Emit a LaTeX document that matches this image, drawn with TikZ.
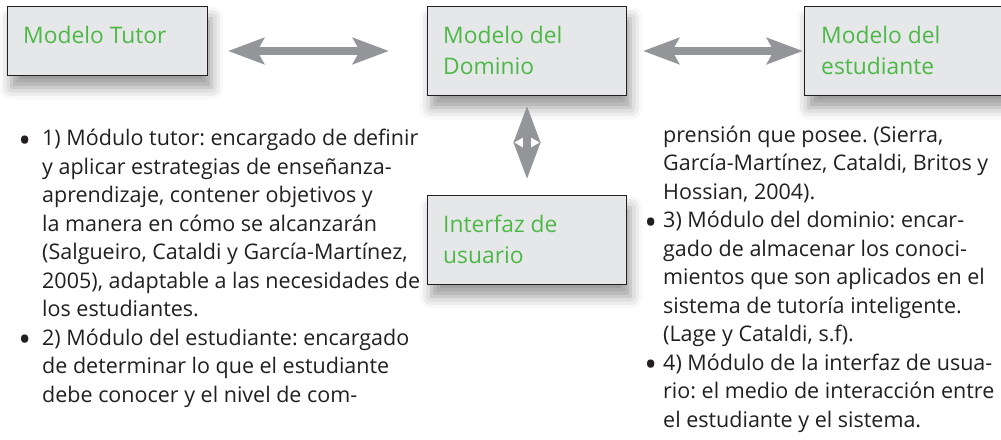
\documentclass[tikz,border=0pt]{standalone}
\usepackage{fontspec}
\setmainfont{Open Sans}
\usetikzlibrary{arrows.meta,shadows.blur}
\definecolor{boxfill}{HTML}{E6E7E8}
\definecolor{boxline}{HTML}{231F20}
\definecolor{arrowgray}{HTML}{939598}
\definecolor{titlegreen}{HTML}{4DB848}
\definecolor{bodytext}{HTML}{231F20}
\frenchspacing
\newcommand\mybul[1]{\makebox[0pt][r]{\raisebox{-6.5pt}{\fontsize{34}{34}\selectfont\textbullet}\hspace{#1}}}
\begin{document}
\begin{tikzpicture}[x=1pt,y=-1pt,
  modelbox/.style={draw=boxline, line width=1pt, fill=boxfill, inner sep=0pt, anchor=north west,
    blur shadow={shadow xshift=4pt, shadow yshift=-12pt, shadow blur radius=12pt, shadow opacity=40}},
  boxtext/.style={text=titlegreen, font=\fontsize{22.8}{31}\selectfont, align=left, anchor=base west, inner sep=0pt},
  bodytxt/.style={text=bodytext, font=\fontsize{21.5}{28.5}\selectfont\frenchspacing, align=left, anchor=base west, inner sep=0pt},
  dblarrow/.style={draw=arrowgray, line width=8pt,
    {Stealth[length=36pt,width=26pt,inset=7pt]}-{Stealth[length=36pt,width=26pt,inset=7pt]}}]
\useasboundingbox (0,0) rectangle (1001,439);
\clip (0,0) rectangle (1001,439);
% boxes
\node[modelbox, minimum width=200pt, minimum height=69pt] (tutor) at (7,6) {};
\node[modelbox, minimum width=199pt, minimum height=89pt] (dominio) at (427,6) {};
\node[modelbox, minimum width=230pt, minimum height=89pt] (estud) at (804,6) {};
\node[modelbox, minimum width=199pt, minimum height=89pt] (interfaz) at (427,195) {};
% box titles (anchored at the baseline of their last line)
\node[boxtext] (tutortxt) at ([shift={(16,37)}]tutor.north west) {Modelo Tutor};
\node[boxtext] (dominiotxt) at ([shift={(16,68)}]dominio.north west) {Modelo del\\Dominio};
\node[boxtext] (estudtxt) at ([shift={(17,68)}]estud.north west) {Modelo del\\estudiante};
\node[boxtext] (interfaztxt) at ([shift={(16,68)}]interfaz.north west) {Interfaz de\\usuario};
% connectors
\path (tutor.east |- dominio.west) ++(20,0) coordinate (a1);
\path (dominio.west) ++(-38,0) coordinate (a2);
\path (dominio.east) ++(16,0) coordinate (b1);
\path (estud.west) ++(-1,0) coordinate (b2);
\path (dominio.south) ++(0,10) coordinate (c1);
\path (interfaz.north) ++(0,-16) coordinate (c2);
\draw[dblarrow] (a1) -- (a2);
\draw[dblarrow] (b1) -- (b2);
\draw[dblarrow] (c1) -- (c2);
% body text (anchored at the baseline of the last line)
\node[bodytxt] (lefttxt) at (42,402) {\mybul{11pt}1) Módulo tutor: encargado de definir\\
y aplicar estrategias de enseñanza-\\
aprendizaje, contener objetivos y\\
la manera en cómo se alcanzarán\\
(Salgueiro, Cataldi y García-Martínez,\\
2005), adaptable a las necesidades de\\
los estudiantes.\\
\mybul{11pt}2) Módulo del estudiante: encargado\\
de determinar lo que el estudiante\\
debe conocer y el nivel de com-};
\node[bodytxt] (righttxt) at (663,427) {prensión que posee. (Sierra,\\
García-Martínez, Cataldi, Britos y\\
Hossian, 2004).\\
\mybul{6pt}3) Módulo del dominio: encar-\\
gado de almacenar los conoci-\\
mientos que son aplicados en el\\
sistema de tutoría inteligente.\\
(Lage y Cataldi, s.f).\\
\mybul{6pt}4) Módulo de la interfaz de usua-\\
rio: el medio de interacción entre\\
el estudiante y el sistema.};
\end{tikzpicture}
\end{document}
